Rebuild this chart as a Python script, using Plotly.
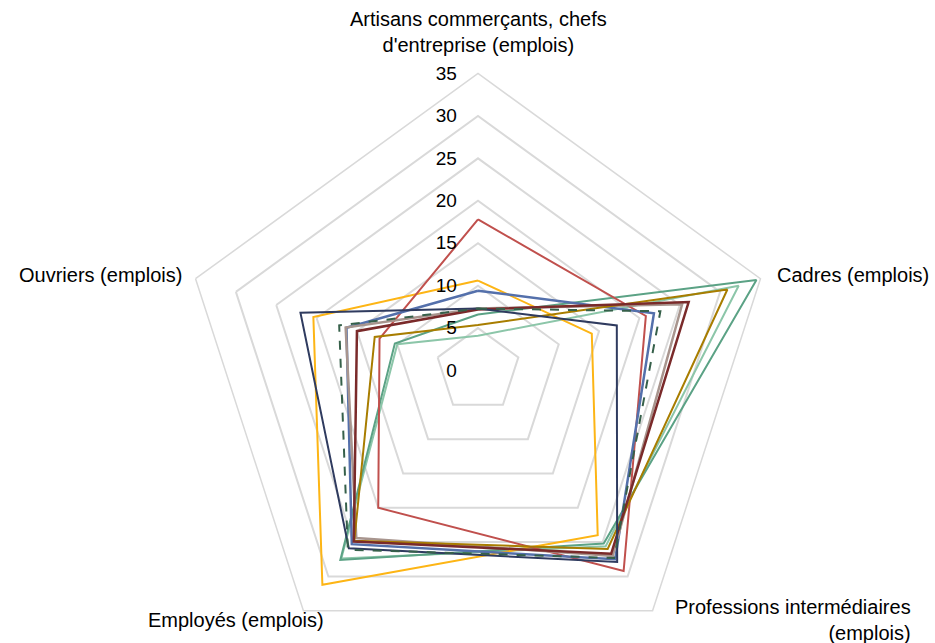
import plotly.graph_objects as go

categories = [
    "Artisans commerçants, chefs<br>d'entreprise (emplois)",
    "Cadres (emplois)",
    "Professions intermédiaires<br>(emplois)",
    "Employés (emplois)",
    "Ouvriers (emplois)",
]

blue = [9.4, 21.8, 27.5, 25.3, 16.3]
red = [17.8, 20.8, 29.2, 20.0, 12.2]
orange = [10.6, 14.1, 24.0, 31.2, 20.4]
teal = [6.6, 34.5, 25.2, 27.6, 10.3]
light_green = [4.1, 32.3, 25.6, 27.4, 10.0]
navy = [7.3, 17.2, 27.9, 25.9, 22.0]
maroon = [7.2, 26.1, 26.7, 24.9, 15.0]
gold = [5.35, 30.9, 26.0, 24.8, 12.8]
greybrown = [7.3, 25.3, 27.0, 24.4, 16.4]
dashed_green = [7.3, 22.6, 27.3, 26.1, 17.2]

series = [
    ("light_green", light_green, "#8CC6A9", 2, "solid"),
    ("teal", teal, "#5BA285", 2, "solid"),
    ("orange", orange, "#FDB515", 2, "solid"),
    ("red", red, "#C0504D", 2, "solid"),
    ("blue", blue, "#5470AB", 2.5, "solid"),
    ("greybrown", greybrown, "#A8958E", 2.5, "solid"),
    ("gold", gold, "#A87D00", 2, "solid"),
    ("maroon", maroon, "#7A2A2A", 2.5, "solid"),
    ("navy", navy, "#2F3B5F", 2, "solid"),
    ("dashed_green", dashed_green, "#36604A", 2, "dash"),
]

radial_ticks = [0, 5, 10, 15, 20, 25, 30, 35]

W, H = 935, 668
MT = 73
PLOT_H = H - MT
CX, R = 478, 297
FONT = "Liberation Sans, Arial, sans-serif"
FS = 20

fig = go.Figure()
for name, vals, color, w, dash in series:
    fig.add_trace(go.Scatterpolar(
        r=vals + vals[:1],
        theta=categories + categories[:1],
        mode="lines",
        name=name,
        line=dict(color=color, width=w, dash=dash),
        hoverinfo="skip",
    ))


def px_x(x):
    return x / W


def px_y(y):
    return (H - y) / PLOT_H


label_specs = [
    # (x_px, y_px, xanchor, align)
    (478, 32, "center", "center"),
    (775, 275, "left", "left"),
    (913, 620, "right", "right"),
    (326, 620, "right", "right"),
    (184, 275, "right", "right"),
]
annotations = []
for text, (x, y, xa, al) in zip(categories, label_specs):
    annotations.append(dict(
        text=text, xref="paper", yref="paper", x=px_x(x), y=px_y(y),
        xanchor=xa, yanchor="middle", align=al, showarrow=False,
        font=dict(family=FONT, size=FS, color="#000000"),
    ))

fig.update_layout(
    width=W,
    height=H,
    margin=dict(l=0, r=0, t=MT, b=0),
    paper_bgcolor="white",
    plot_bgcolor="white",
    showlegend=False,
    font=dict(family=FONT, size=FS, color="#000000"),
    annotations=annotations,
    polar=dict(
        domain=dict(x=[(CX - R) / W, (CX + R) / W], y=[0, 1]),
        gridshape="linear",
        bgcolor="white",
        radialaxis=dict(
            range=[0, 35],
            tickvals=radial_ticks,
            ticktext=[str(v) for v in radial_ticks],
            angle=90,
            side="counterclockwise",
            showline=False,
            ticks="outside",
            ticklen=14,
            tickcolor="rgba(0,0,0,0)",
            gridcolor="#D9D9D9",
            gridwidth=1.5,
            tickfont=dict(family=FONT, size=FS - 1, color="#000000"),
            tickangle=90,
        ),
        angularaxis=dict(
            direction="clockwise",
            rotation=90,
            showgrid=False,
            showline=True,
            linecolor="#D9D9D9",
            linewidth=1.5,
            ticks="",
            showticklabels=False,
        ),
    ),
)

fig.write_html(
    "out.html",
    config={"displayModeBar": False},
    post_script="document.body.style.overflow='hidden';document.documentElement.style.overflow='hidden';document.body.style.margin='0';",
)
